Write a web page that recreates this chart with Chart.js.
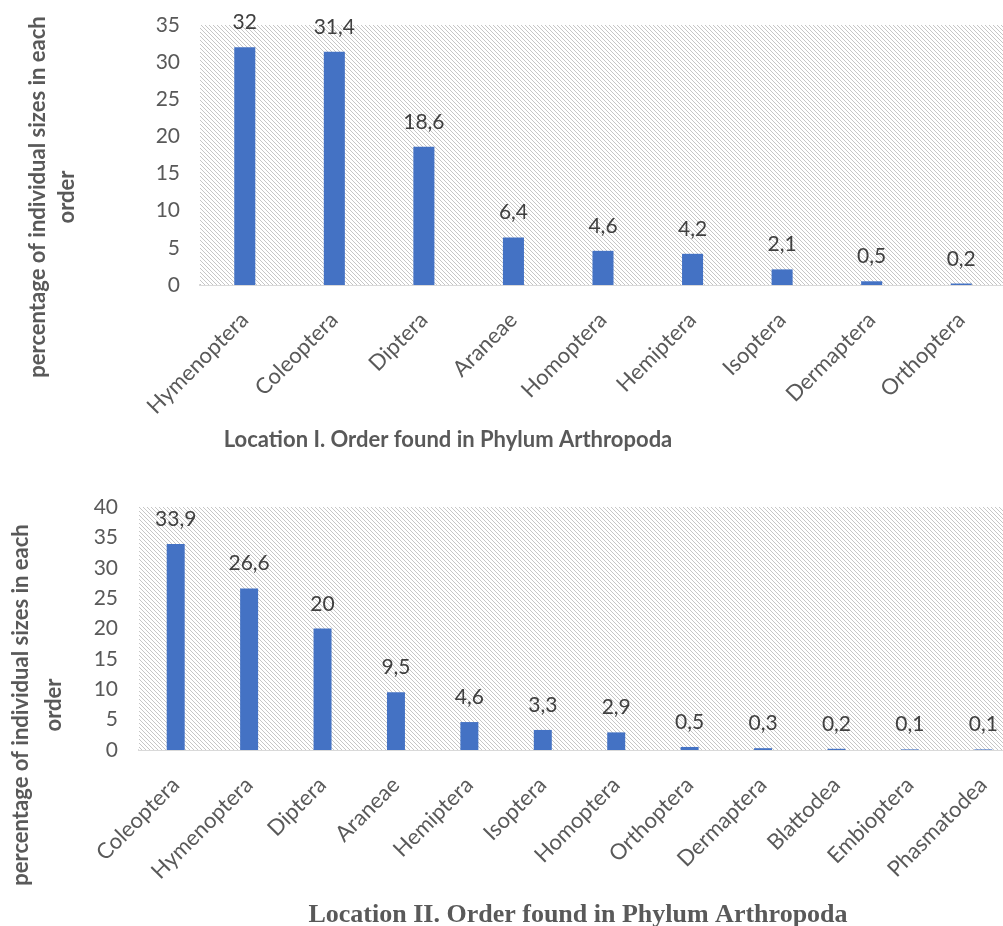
<!DOCTYPE html>
<html>
<head>
<meta charset="utf-8">
<script src="https://cdn.jsdelivr.net/npm/chart.js@4.4.1/dist/chart.umd.min.js"></script>
<style>
  html, body { margin: 0; padding: 0; background: #ffffff; }
  body { width: 1003px; height: 926px; overflow: hidden; position: relative; }
  canvas { position: absolute; left: 0; }
  #loc1 { top: 0; }
  #loc2 { top: 480px; }
</style>
</head>
<body>
<canvas id="loc1" width="1006" height="470"></canvas>
<canvas id="loc2" width="1020" height="446"></canvas>
<script>
// Orders of Phylum Arthropoda and their share of individuals (%)
const ordersLocation1 = ['Hymenoptera', 'Coleoptera', 'Diptera', 'Araneae', 'Homoptera',
  'Hemiptera', 'Isoptera', 'Dermaptera', 'Orthoptera'];
const percentLocation1 = [32, 31.4, 18.6, 6.4, 4.6, 4.2, 2.1, 0.5, 0.2];

const ordersLocation2 = ['Coleoptera', 'Hymenoptera', 'Diptera', 'Araneae', 'Hemiptera',
  'Isoptera', 'Homoptera', 'Orthoptera', 'Dermaptera', 'Blattodea', 'Embioptera', 'Phasmatodea'];
const percentLocation2 = [33.9, 26.6, 20, 9.5, 4.6, 3.3, 2.9, 0.5, 0.3, 0.2, 0.1, 0.1];

const yTicksLocation1 = [0, 5, 10, 15, 20, 25, 30, 35];
const yTicksLocation2 = [0, 5, 10, 15, 20, 25, 30, 35, 40];

const axisTitleLines = ['percentage of individual sizes in each', 'order'];
const titleLocation1 = 'Location I. Order found in Phylum Arthropoda';
const titleLocation2 = 'Location II. Order found in Phylum Arthropoda';

const BAR_BLUE = '#4472C4';
const TEXT_GREY = '#595959';
const LABEL_GREY = '#404040';

// Light diagonal hatch used as the plot-area background
function makeHatch() {
  const s = 4;
  const c = document.createElement('canvas');
  c.width = s; c.height = s;
  const g = c.getContext('2d');
  g.fillStyle = '#ffffff';
  g.fillRect(0, 0, s, s);
  g.strokeStyle = '#c6c6c6';
  g.lineWidth = 1;
  g.beginPath();
  g.moveTo(0, 0); g.lineTo(s, s);
  g.moveTo(-1, s - 1); g.lineTo(1, s + 1);
  g.moveTo(s - 1, -1); g.lineTo(s + 1, 1);
  g.stroke();
  return c;
}

const hatchBackground = {
  id: 'hatchBackground',
  beforeDatasetsDraw(chart) {
    const { ctx, chartArea } = chart;
    ctx.save();
    ctx.fillStyle = ctx.createPattern(makeHatch(), 'repeat');
    ctx.fillRect(chartArea.left, chartArea.top, chartArea.right - chartArea.left, chartArea.bottom - chartArea.top);
    ctx.restore();
  }
};

// Value printed above each bar, using a decimal comma
const valueLabels = {
  id: 'valueLabels',
  afterDatasetsDraw(chart, args, opts) {
    const { ctx } = chart;
    const values = chart.data.datasets[0].data;
    const meta = chart.getDatasetMeta(0);
    ctx.save();
    ctx.font = opts.font;
    ctx.fillStyle = LABEL_GREY;
    ctx.textAlign = 'center';
    ctx.textBaseline = 'alphabetic';
    meta.data.forEach((bar, i) => {
      ctx.fillText(String(values[i]).replace('.', ','), bar.x, bar.y - opts.gap);
    });
    ctx.restore();
  }
};

// Rotated two-line axis title and the caption underneath the chart
const captions = {
  id: 'captions',
  afterDraw(chart, args, opts) {
    const { ctx } = chart;
    ctx.save();
    ctx.fillStyle = TEXT_GREY;
    ctx.font = opts.axisFont;
    ctx.textAlign = 'center';
    ctx.textBaseline = 'middle';
    opts.axisLines.forEach((line, i) => {
      ctx.save();
      ctx.translate(opts.axisX[i], opts.axisY);
      ctx.rotate(-Math.PI / 2);
      ctx.fillText(line, 0, 0);
      ctx.restore();
    });
    ctx.font = opts.titleFont;
    ctx.textBaseline = 'alphabetic';
    ctx.fillText(opts.title, opts.titleX, opts.titleY);
    ctx.restore();
  }
};

function buildChart(id, labels, values, yTicks, cfg) {
  const yMax = yTicks[yTicks.length - 1];
  return new Chart(document.getElementById(id), {
    type: 'bar',
    data: {
      labels: labels,
      datasets: [{
        data: values,
        backgroundColor: BAR_BLUE,
        borderWidth: 0,
        categoryPercentage: 1,
        barPercentage: cfg.barPercentage
      }]
    },
    options: {
      responsive: false,
      animation: false,
      devicePixelRatio: 1,
      layout: { padding: { left: 0, right: 0, top: cfg.padTop, bottom: 0 } },
      plugins: {
        legend: { display: false },
        tooltip: { enabled: false },
        valueLabels: { font: '21px Lato', gap: 18 },
        captions: {
          axisLines: axisTitleLines,
          axisFont: 'bold 22px Lato',
          axisX: cfg.axisX,
          axisY: cfg.axisY,
          title: cfg.title,
          titleFont: cfg.titleFont,
          titleX: cfg.titleX,
          titleY: cfg.titleY
        }
      },
      scales: {
        x: {
          grid: { display: false },
          border: { display: true, color: '#d9d9d9', width: 2 },
          ticks: {
            color: TEXT_GREY,
            font: { family: 'Lato', size: 22 },
            minRotation: 45,
            maxRotation: 45,
            autoSkip: false,
            padding: 14
          },
          afterFit(scale) { scale.height = cfg.xHeight; }
        },
        y: {
          min: 0,
          max: yMax,
          grid: { display: false, drawTicks: false },
          border: { display: false },
          afterBuildTicks(scale) { scale.ticks = yTicks.map(v => ({ value: v })); },
          ticks: {
            color: TEXT_GREY,
            font: { family: 'Lato', size: 21 },
            padding: cfg.yPad
          },
          afterFit(scale) {
            scale.width = cfg.yWidth;
            scale.paddingTop = 10;
            scale.paddingBottom = 10;
          }
        }
      }
    },
    plugins: [hatchBackground, valueLabels, captions]
  });
}

buildChart('loc1', ordersLocation1, percentLocation1, yTicksLocation1, {
  barPercentage: 0.235,
  padTop: 25,
  xHeight: 185,
  yWidth: 200,
  yPad: 20,
  axisX: [38, 67],
  axisY: 197,
  title: titleLocation1,
  titleFont: 'bold 22px Lato',
  titleX: 448,
  titleY: 447
});

buildChart('loc2', ordersLocation2, percentLocation2, yTicksLocation2, {
  barPercentage: 0.245,
  padTop: 27,
  xHeight: 176,
  yWidth: 139,
  yPad: 21,
  axisX: [21, 54],
  axisY: 225,
  title: titleLocation2,
  titleFont: 'bold 26px "Liberation Serif"',
  titleX: 578,
  titleY: 442
});
</script>
</body>
</html>
